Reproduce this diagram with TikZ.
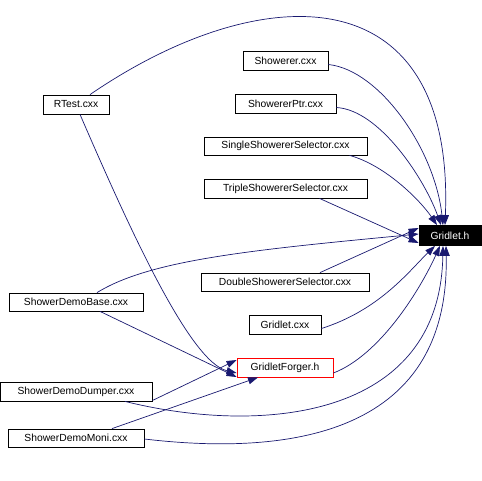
\documentclass[tikz,border=0pt]{standalone}
\usepackage{fontspec}
\setmainfont{Liberation Sans}
\usetikzlibrary{arrows.meta,positioning}
\definecolor{edgeblue}{HTML}{191970}

\begin{document}
\begin{tikzpicture}[x=1pt, y=-1pt,
  file/.style={draw, line width=0.8pt, inner sep=0pt, font=\fontsize{10.3}{12}\selectfont},
  edge/.style={draw=edgeblue, line width=0.7pt, arrows={-{Triangle[length=10pt,width=7pt,fill=edgeblue]}}}]

  \useasboundingbox (0,0) rectangle (482,480);

  % Define the file nodes
  \node[file, fill=black, text=white, minimum width=62, minimum height=20] (gh) at (450,235.5) {Gridlet.h};
  \node[file, minimum width=85, minimum height=19] (sh) at (285.5,60.5) {Showerer.cxx};
  \node[file, minimum width=101, minimum height=19] (sp) at (285.5,103.5) {ShowererPtr.cxx};
  \node[file, minimum width=163, minimum height=18] (sss) at (285.5,146) {SingleShowererSelector.cxx};
  \node[file, minimum width=163, minimum height=19] (tss) at (285.5,188.5) {TripleShowererSelector.cxx};
  \node[file, minimum width=66, minimum height=19] (rt) at (76,104.5) {RTest.cxx};
  \node[file, minimum width=168, minimum height=18] (dss) at (285,282) {DoubleShowererSelector.cxx};
  \node[file, minimum width=134, minimum height=18] (sdb) at (76,302) {ShowerDemoBase.cxx};
  \node[file, minimum width=72, minimum height=19] (gc) at (285,324.5) {Gridlet.cxx};
  \node[file, draw=red, minimum width=96, minimum height=19] (gf) at (285,367.5) {GridletForger.h};
  \node[file, minimum width=152, minimum height=19] (sdd) at (76,391.5) {ShowerDemoDumper.cxx};
  \node[file, minimum width=136, minimum height=18] (sdm) at (76,438) {ShowerDemoMoni.cxx};

  % Draw the include arrows
  \draw[edge] ([xshift=14]rt.north) .. controls (260,-22) and (455,-28) .. ([xshift=-5]gh.north);
  \draw[edge] ([xshift=4]rt.south) .. controls (130,230) and (190,362) .. ([yshift=-5.5]gf.west);
  \draw[edge] ([yshift=-4]sh.east) .. controls (380,70) and (435,150) .. ([xshift=-7]gh.north);
  \draw[edge] ([yshift=-4]sp.east) .. controls (380,110) and (425,180) .. ([xshift=-9]gh.north);
  \draw[edge] ([xshift=64]sss.south) .. controls (385,165) and (420,200) .. ([xshift=-13]gh.north);
  \draw[edge] ([xshift=34]tss.south) -- ([yshift=-7.5]gh.west);
  \draw[edge] ([xshift=21]sdb.north) .. controls (150,260) and (250,250) .. ([yshift=1.5]gh.west);
  \draw[edge] ([xshift=35]dss.north) -- ([yshift=7.5]gh.west);
  \draw[edge] ([xshift=24]sdb.south) -- ([yshift=-9.5]gf.west);
  \draw[edge] ([yshift=-4]gc.east) .. controls (380,310) and (410,270) .. ([xshift=-15]gh.south);
  \draw[edge] ([yshift=-5.5]gf.east) .. controls (380,355) and (420,290) .. ([xshift=-10]gh.south);
  \draw[edge] ([yshift=-9]sdd.east) -- ([yshift=7.5]gf.west);
  \draw[edge] ([xshift=49]sdd.south) .. controls (260,435) and (440,420) .. ([xshift=-7]gh.south);
  \draw[edge] ([xshift=36]sdm.north) -- ([xshift=-27]gf.south);
  \draw[edge] ([yshift=-1]sdm.east) .. controls (280,455) and (450,440) .. ([xshift=-4]gh.south);
\end{tikzpicture}
\end{document}
